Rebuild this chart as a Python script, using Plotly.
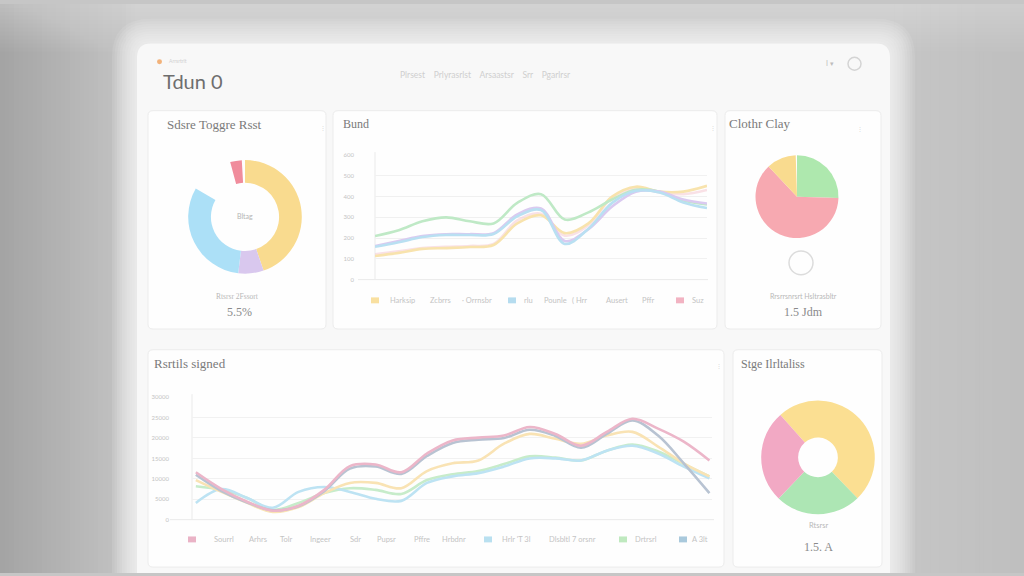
import plotly.graph_objects as go

W, H = 1024, 576
def px(x): return x / W
def py(y): return 1 - y / H

# ---------------- DATA ----------------
donut1_labels = ["Yellow", "Purple", "Blue", "gap1", "Red", "gap2"]
donut1_values = [44.7, 7.2, 31.4, 12.5, 3.3, 0.9]

pie2_labels = ["Green", "Pink", "Yellow", "gap"]
pie2_values = [25.5, 62.5, 11.5, 0.5]

donut3_labels = ["Yellow", "Green", "Pink"]
donut3_values = [49.3, 24.4, 26.3]

top_x = list(range(15))
top_green  = [210, 238, 281, 300, 281, 271, 370, 412, 290, 324, 386, 433, 424, 381, 362]
top_purple = [162, 186, 210, 219, 219, 224, 314, 343, 186, 243, 352, 424, 424, 386, 367]
top_yellow = [114, 129, 148, 152, 157, 167, 271, 310, 224, 271, 400, 448, 424, 424, 452]
top_blue   = [158, 180, 205, 215, 215, 220, 305, 335, 172, 245, 370, 428, 420, 372, 345]
top_pink   = [122, 136, 152, 158, 162, 172, 285, 318, 212, 262, 395, 440, 420, 412, 432]
top_yticks = [0, 100, 200, 300, 400, 500, 600]
top_ytext  = ["0", "100", "200", "300", "400", "500", "600"]
top_legend_labels = ["Harksip", "Zcbrrs", "· Orrnsbr", "rlu", "Pounle", "( Hrr", "Ausert", "Pffr", "Suz"]

bot_x = list(range(21))
bot_pink   = [1160, 750, 440, 220, 340, 730, 1310, 1350, 1160, 1620, 1940, 2010, 2060, 2270, 2100, 1810, 2150, 2470, 2230, 1910, 1450]
bot_yellow = [970, 680, 410, 190, 310, 650, 900, 900, 770, 1190, 1380, 1450, 1860, 2100, 1980, 1860, 2060, 2150, 1790, 1380, 1060]
bot_blue   = [410, 750, 530, 290, 680, 800, 680, 510, 460, 900, 1060, 1140, 1300, 1500, 1500, 1450, 1690, 1810, 1620, 1300, 1010]
bot_green  = [820, 730, 530, 240, 410, 650, 770, 730, 630, 970, 1110, 1190, 1360, 1550, 1520, 1450, 1690, 1840, 1670, 1360, 1060]
bot_steel  = [1100, 700, 420, 230, 330, 700, 1250, 1300, 1120, 1560, 1880, 1960, 2000, 2200, 2050, 1760, 2100, 2430, 2060, 1380, 650]
bot_yticks = [0, 500, 1000, 1500, 2000, 2500, 3000]
bot_ytext  = ["0", "5000", "10000", "15000", "20000", "25000", "30000"]
bot_legend_labels = ["Sourrl", "Arhrs", "Tolr", "Ingeer", "Sdr", "Pupsr", "Pffre", "Hrbdnr",
                     "Hrlr 'T 3l", "Dlsbltl 7 orsnr", "Drtrsrl", "A 3lt"]

# ---------------- STYLE ----------------
C_YEL = "#f9db8f"; C_PUR = "#d9c8ee"; C_BLU = "#ace0f7"; C_RED = "#f08c9c"
C_GRN = "#aee8ae"; C_PNK = "#f7a9b1"
SANS = "Lato, 'Open Sans', sans-serif"
SERIF = "'Liberation Serif', serif"

fig = go.Figure()

# ---------------- pies ----------------
def dom(cx, cy, r):
    return dict(x=[px(cx - r), px(cx + r)], y=[py(cy + r), py(cy - r)])

fig.add_trace(go.Pie(labels=donut1_labels, values=donut1_values, hole=0.6, sort=False,
                     direction="clockwise", rotation=0, textinfo="none", hoverinfo="skip",
                     marker=dict(colors=[C_YEL, C_PUR, C_BLU, "rgba(0,0,0,0)", C_RED, "rgba(0,0,0,0)"],
                                 line=dict(width=0)),
                     domain=dom(245, 215.5, 57.5), showlegend=False))
fig.add_trace(go.Pie(labels=pie2_labels, values=pie2_values, sort=False,
                     direction="clockwise", rotation=0, textinfo="none", hoverinfo="skip",
                     marker=dict(colors=[C_GRN, C_PNK, C_YEL, "rgba(0,0,0,0)"], line=dict(width=0)),
                     domain=dom(797, 195, 42), showlegend=False))
fig.add_trace(go.Pie(labels=donut3_labels, values=donut3_values, hole=0.35, sort=False,
                     direction="clockwise", rotation=-41.5, textinfo="none", hoverinfo="skip",
                     marker=dict(colors=["#fbdf92", "#ade6b4", "#f2a9c4"], line=dict(width=0)),
                     domain=dom(818, 459, 57.5), showlegend=False))

# ---------------- line charts ----------------
top_series = [(top_pink, "#f6cdd6", 0.6), (top_yellow, "#f8e3ad", 1), (top_green, "#bfe9c6", 1),
              (top_purple, "#dacaf0", 1), (top_blue, "#b9e0f2", 1)]
for ys, col, op in top_series:
    fig.add_trace(go.Scatter(x=top_x, y=ys, mode="lines", line=dict(color=col, width=2.6, shape="spline"),
                             opacity=op, xaxis="x", yaxis="y", showlegend=False, hoverinfo="skip"))

bot_series = [(bot_green, "#c7ecca"), (bot_blue, "#bde3f3"), (bot_yellow, "#f9e3b4"),
              (bot_steel, "#b8c3d2"), (bot_pink, "#ecb6c9")]
for ys, col in bot_series:
    fig.add_trace(go.Scatter(x=bot_x, y=ys, mode="lines", line=dict(color=col, width=2.6, shape="spline"),
                             xaxis="x2", yaxis="y2", showlegend=False, hoverinfo="skip"))

axis_common = dict(showline=False, zeroline=False, ticks="", fixedrange=True)
fig.update_layout(
    xaxis=dict(domain=[px(375), px(707)], range=[0, 14], anchor="y", showgrid=False, showticklabels=False, **axis_common),
    yaxis=dict(domain=[py(279), py(153)], range=[0, 600], anchor="x", tickvals=top_yticks, ticktext=top_ytext,
               showgrid=True, gridcolor="#f1f1f1", gridwidth=1, tickfont=dict(size=6, color="#c4c4c4", family=SANS),
               ticklabelstandoff=20, **axis_common),
    xaxis2=dict(domain=[px(192), px(712)], range=[-0.15, 20.1], anchor="y2", showgrid=False, showticklabels=False, **axis_common),
    yaxis2=dict(domain=[py(522), py(398)], range=[0, 3000], anchor="x2", tickvals=bot_yticks, ticktext=bot_ytext,
                showgrid=True, gridcolor="#f1f1f1", gridwidth=1, tickfont=dict(size=6, color="#c4c4c4", family=SANS),
                ticklabelstandoff=22, **axis_common),
)

# ---------------- shapes ----------------
shapes = []
def rect(x0, y0, x1, y1, fill, line=None, layer="below", opacity=1):
    shapes.append(dict(type="rect", xref="paper", yref="paper", x0=px(x0), x1=px(x1), y0=py(y1), y1=py(y0),
                       fillcolor=fill, line=dict(width=0) if line is None else line, layer=layer, opacity=opacity))

def rrect(x0, y0, x1, y1, r, fill, line=None, layer="below", opacity=1, round_bottom=True):
    P = lambda x, y: f"{px(x):.5f},{py(y):.5f}"
    if round_bottom:
        bottom = (f"L {P(x1,y1-r)} Q {P(x1,y1)} {P(x1-r,y1)} L {P(x0+r,y1)} Q {P(x0,y1)} {P(x0,y1-r)} ")
    else:
        bottom = f"L {P(x1,y1)} L {P(x0,y1)} "
    path = (f"M {P(x0+r,y0)} L {P(x1-r,y0)} Q {P(x1,y0)} {P(x1,y0+r)} " + bottom +
            f"L {P(x0,y0+r)} Q {P(x0,y0)} {P(x0+r,y0)} Z")
    shapes.append(dict(type="path", xref="paper", yref="paper", path=path, fillcolor=fill,
                       line=dict(width=0) if line is None else line, layer=layer, opacity=opacity))

def hexmix(a, b, t):
    a = [int(a[i:i+2], 16) for i in (1, 3, 5)]; b = [int(b[i:i+2], 16) for i in (1, 3, 5)]
    return "#" + "".join(f"{round(a[k] + (b[k]-a[k])*t):02x}" for k in range(3))

# background gradient
n = 30
for i in range(n):
    x0 = i * 140 / n
    rect(x0, 0, x0 + 140 / n + 0.6, H, hexmix("#a4a4a4", "#c6c6c6", i / (n - 1)))
for i in range(n):
    x0 = 890 + i * 134 / n
    rect(x0, 0, x0 + 134 / n + 0.6, H, hexmix("#c6c6c6", "#bfbfbf", i / (n - 1)))
for i in range(12):
    rect(0, 0, W, 48 - i * 4, "#ffffff", opacity=0.03)

# soft glow around card
for i in range(10, 0, -1):
    g = i * 2.5
    rrect(137 - g, 40 - g, 890 + g, H, 14 + g, "#ffffff", opacity=0.10, round_bottom=False)

# card and panels
rrect(137, 40, 890, H, 14, "#f8f8f8", round_bottom=False)
panel_border = dict(color="#ececec", width=1)
rrect(148, 108, 326, 329, 5, "#fefefe", panel_border)
rrect(333, 108, 717, 329, 5, "#fefefe", panel_border)
rrect(725, 108, 881, 329, 5, "#fefefe", panel_border)
rrect(148, 350, 724, 570, 5, "#fefefe", panel_border)
rrect(733, 350, 882, 570, 5, "#fefefe", panel_border)

# axis lines
for (x0, x1, y0, y1) in [(375, 375, 279, 150), (358, 708, 279, 279), (192, 192, 522, 395), (170, 714, 522, 522)]:
    shapes.append(dict(type="line", xref="paper", yref="paper", x0=px(x0), x1=px(x1), y0=py(y0), y1=py(y1),
                       line=dict(color="#eaeaea", width=1), layer="below"))

# icons
shapes.append(dict(type="circle", xref="paper", yref="paper", x0=px(789), x1=px(813), y0=py(274), y1=py(250),
                   line=dict(color="#dcdcdc", width=1.5), fillcolor="rgba(0,0,0,0)", layer="above"))
shapes.append(dict(type="circle", xref="paper", yref="paper", x0=px(848), x1=px(861), y0=py(67), y1=py(54),
                   line=dict(color="#d4d4d4", width=1.5), fillcolor="rgba(0,0,0,0)", layer="above"))
shapes.append(dict(type="circle", xref="paper", yref="paper", x0=px(157), x1=px(162), y0=py(61), y1=py(56),
                   fillcolor="#f2b27a", line=dict(width=0), layer="above"))

# ---------------- annotations ----------------
ann = []
def text(x, y, s, size=8, color="#9a9a9a", family=SANS, xanchor="left"):
    ann.append(dict(x=px(x), y=py(y), xref="paper", yref="paper", text=s, showarrow=False,
                    xanchor=xanchor, yanchor="middle", font=dict(size=size, color=color, family=family)))

text(167, 58, "Arrsrtrlt", 5, "#d0d0d0")
text(161, 78, "Tdun 0", 20, "#6e6e6e", SANS)
text(398, 72, "Plrsest &nbsp;&nbsp; Prlyrasrlst &nbsp;&nbsp; Arsaastsr &nbsp;&nbsp; Srr &nbsp;&nbsp; Pgarlrsr", 8.5, "#cfcfcf")
text(824, 60, "I ▾", 7, "#bdbdbd")

text(165, 122, "Sdsre Toggre Rsst", 13, "#7a7a7a", SERIF)
text(245, 215, "Bltag", 7, "#b5b5b5", SANS, "center")
text(237, 296, "Rtsrsr 2Fssort", 7.5, "#b8b8b8", SERIF, "center")
text(239, 312, "5.5%", 12, "#8a8a8a", SERIF, "center")
text(318, 125, "⋮", 6, "#d6d6d6")

text(341, 121, "Bund", 12, "#7a7a7a", SERIF)
text(708, 125, "⋮", 6, "#d6d6d6")

text(727, 121, "Clothr Clay", 13, "#7a7a7a", SERIF)
text(855, 126, "⋮", 6, "#d6d6d6")
text(803, 296, "Rrsrrsnrsrt Hsltrasbltr", 7, "#b8b8b8", SANS, "center")
text(803, 312, "1.5 Jdm", 12, "#8a8a8a", SERIF, "center")

text(152, 364, "Rsrtils signed", 13, "#7a7a7a", SERIF)
text(714, 366, "⋮", 6, "#d6d6d6")

text(739, 364, "Stge Ilrltaliss", 12, "#7a7a7a", SERIF)
text(818, 528, "Rtsrsr", 7.5, "#b8b8b8", SANS, "center")
text(818, 550, "1.5. A", 12, "#8a8a8a", SERIF, "center")

# top legend
top_leg_x = [388, 428, 460, 522, 542, 570, 604, 640, 690]
for lbl, x in zip(top_legend_labels, top_leg_x):
    text(x, 300, lbl, 7.5, "#c4c4c4")
for x, col in [(371, "#f9e0a0"), (508, "#b5dcef"), (676, "#f2b3c2")]:
    rect(x, 297, x + 8, 303, col, layer="above")

# bottom legend
bot_leg_x = [212, 247, 278, 308, 348, 375, 412, 440, 500, 547, 633, 690]
for lbl, x in zip(bot_legend_labels, bot_leg_x):
    text(x, 542, lbl, 7.5, "#c4c4c4")
for x, col in [(188, "#eab3c6"), (484, "#b9e0f0"), (619, "#bfe9bf"), (679, "#a9c9dc")]:
    rect(x, 539, x + 8, 545, col, layer="above")

fig.update_layout(width=W, height=H, margin=dict(l=0, r=0, t=0, b=0),
                  paper_bgcolor="#c6c6c6", plot_bgcolor="rgba(0,0,0,0)",
                  shapes=shapes, annotations=ann, showlegend=False)
fig.write_html("out.html", config={"displayModeBar": False})
